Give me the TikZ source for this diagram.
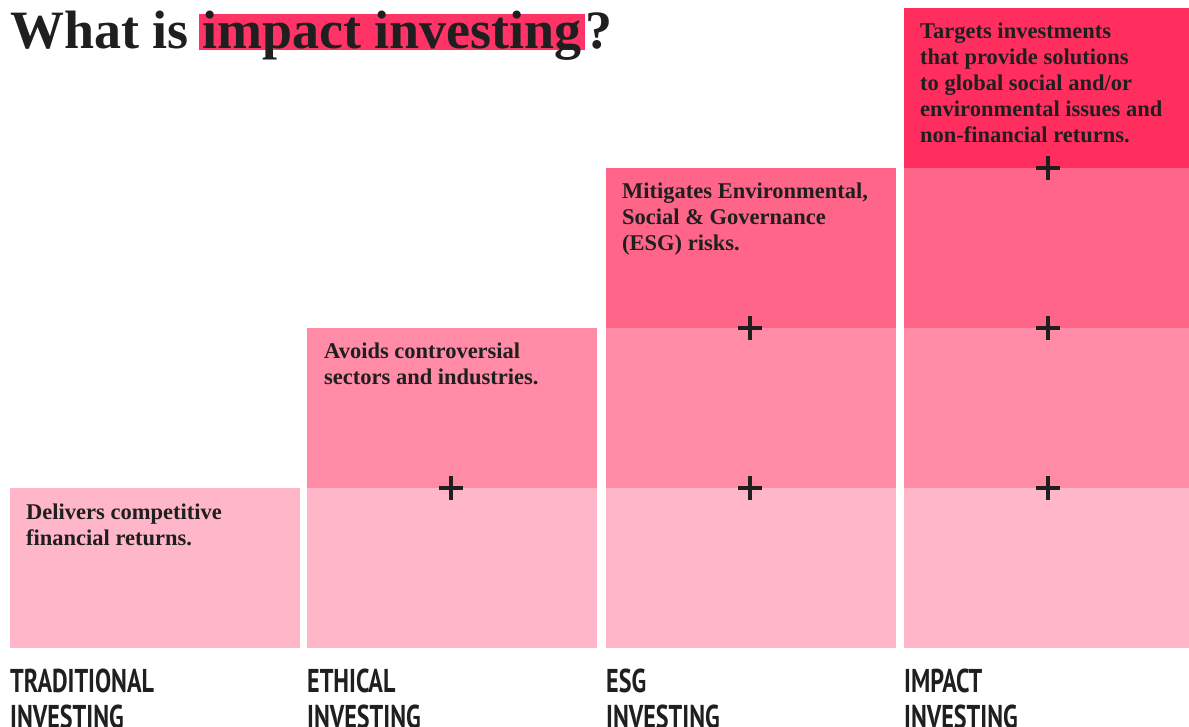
\documentclass[tikz,border=0pt]{standalone}
\usepackage{fontspec}
\setmainfont{Liberation Serif}
\newfontfamily\capsfont[FakeStretch=0.73]{PT Sans}
\usetikzlibrary{positioning}

\definecolor{ink}{HTML}{1F1F1F}
\definecolor{band1}{HTML}{FFB6C9}
\definecolor{band2}{HTML}{FF8BA7}
\definecolor{band3}{HTML}{FF6588}
\definecolor{band4}{HTML}{FF2E5F}
\definecolor{hilite}{HTML}{FF3366}

\begin{document}
\begin{tikzpicture}[x=1pt, y=-1pt,
    headline/.style={inner sep=0, text=ink, font=\fontsize{54}{54}\selectfont\bfseries},
    hl/.style={headline, fill=hilite, inner xsep=3pt, text height=34pt, text depth=2pt},
    blurb/.style={anchor=base west, align=left, inner sep=0, text=ink,
        font=\fontsize{22.5}{26}\selectfont\bfseries},
    tag/.style={anchor=base west, align=left, inner sep=0, text=ink,
        font=\capsfont\fontsize{33}{36}\selectfont\bfseries}]
    \useasboundingbox (0,0) rectangle (1189,726);

    % stacked bands, one more per column
    \foreach \c/\x in {1/10, 2/307, 3/606, 4/904} {
        \foreach \b in {1,...,\c} {
            \fill[band\b] (\x,{648-160*(\b-1)}) rectangle ++(290,-160);
        }
    }
    % plus marks between bands
    \foreach \c/\x in {2/307, 3/606, 4/904} {
        \foreach \b in {2,...,\c} {
            \draw[ink, line width=4pt] ({\x+144-12},{648-160*(\b-1)}) -- ++(24,0)
                ({\x+144},{648-160*(\b-1)-12}) -- ++(0,24);
        }
    }

    % title
    \node[headline, anchor=base west] (what) at (10,48) {What is};
    \node[hl, base right=10pt of what] (impact) {impact investing};
    \node[headline, base right=0pt of impact] (qmark) {?};

    % descriptions (anchored at the last line)
    \node[blurb] (trad) at (26,545) {Delivers competitive\\financial returns.};
    \node[blurb] (ethic) at (324,384) {Avoids controversial\\sectors and industries.};
    \node[blurb] (esg) at (622,250) {Mitigates Environmental,\\Social \& Governance\\(ESG) risks.};
    \node[blurb] (impct) at (920,142) {Targets investments\\that provide solutions\\to global social and/or\\environmental issues and\\non-financial returns.};

    % column names
    \node[tag] (tradname) at (10,728) {TRADITIONAL\\INVESTING};
    \node[tag] (ethicname) at (307,728) {ETHICAL\\INVESTING};
    \node[tag] (esgname) at (606,728) {ESG\\INVESTING};
    \node[tag] (impctname) at (904,728) {IMPACT\\INVESTING};
\end{tikzpicture}
\end{document}
